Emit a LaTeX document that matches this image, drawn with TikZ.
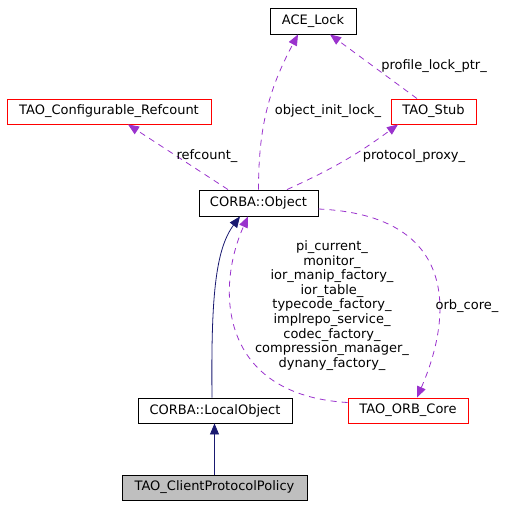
\documentclass[tikz,border=0pt]{standalone}
\usepackage{fontspec}
\setmainfont{DejaVu Sans}
\usepackage{xcolor}
\usepackage{tikz}
\usetikzlibrary{arrows.meta}
\usetikzlibrary{calc}

\definecolor{member}{HTML}{9A32CD}
\definecolor{inherit}{HTML}{191970}

\begin{document}
\begin{tikzpicture}[x=1pt, y=-1pt,
    font=\fontsize{13}{14.6}\selectfont,
    cls/.style={draw=black, line width=0.9pt, minimum height=25pt, inner sep=0pt},
    redcls/.style={cls, draw=red},
    uses/.style={member, line width=0.8pt, dash pattern=on 6pt off 5pt,
      -{Triangle[length=11pt, width=9pt]}},
    isa/.style={inherit, line width=0.8pt, -{Triangle[length=11pt, width=9pt]}},
    lbl/.style={inner sep=0pt, align=center}]

    \useasboundingbox (0,0) rectangle (515,507);

    % classes
    \node [cls, minimum width=86pt, minimum height=26pt] (acelock) at (313,21) {ACE\_Lock};
    \node [redcls, minimum width=204pt] (refcount) at (109,111.5) {TAO\_Configurable\_Refcount};
    \node [redcls, minimum width=85pt] (stub) at (433.5,111.5) {TAO\_Stub};
    \node [cls, minimum width=119pt, minimum height=26pt] (object) at (258.5,203) {CORBA::Object};
    \node [cls, minimum width=154pt] (localobj) at (215,410.5) {CORBA::LocalObject};
    \node [redcls, minimum width=120pt] (orbcore) at (408,410.5) {TAO\_ORB\_Core};
    \node [cls, fill=gray!50, minimum width=185pt] (policy) at (214.5,487.5) {TAO\_ClientProtocolPolicy};

    % members
    \draw [uses] ([xshift=-30.5pt]object.north) -- ([xshift=19pt]refcount.south);
    \draw [uses] (object.north) to[out=90, in=-118] ([xshift=-15pt]acelock.south);
    \draw [uses] ([xshift=28.5pt]object.north) to[bend right=6] ([xshift=-35.5pt]stub.south);
    \draw [uses] ([xshift=-16.5pt]stub.north) -- ([xshift=17pt]acelock.south);
    \draw [uses] ([yshift=-6pt]object.east)
      .. controls (455,215) and (455,310) .. ([xshift=9pt]orbcore.north);
    \draw [uses] ([yshift=8pt]orbcore.west)
      .. controls (220,395) and (215,290) .. ([xshift=-10.5pt]object.south);

    % inheritance
    \draw [isa] ([xshift=-3pt]localobj.north)
      .. controls (211,300) and (215,250) .. ([xshift=-18.5pt]object.south);
    \draw [isa] (policy.north) -- (policy.north |- localobj.south);

    % labels
    \node [lbl] (lblrefcount) at (207,156) {refcount\_};
    \node [lbl] (lblinitlock) at (328,111) {object\_init\_lock\_};
    \node [lbl] (lblproxy) at (414,156) {protocol\_proxy\_};
    \node [lbl] (lbllockptr) at (434,66) {profile\_lock\_ptr\_};
    \node [lbl] (lblorbcore) at (467,306) {orb\_core\_};
    \node [lbl] (lblservices) at (332,305.5) {pi\_current\_\\monitor\_\\ior\_manip\_factory\_\\ior\_table\_\\typecode\_factory\_\\implrepo\_service\_\\codec\_factory\_\\compression\_manager\_\\dynany\_factory\_};

  \end{tikzpicture}
\end{document}
